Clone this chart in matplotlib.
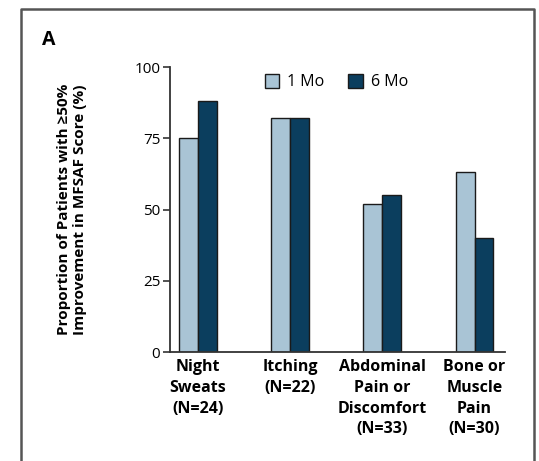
import matplotlib
matplotlib.use("Agg")
import matplotlib.pyplot as plt
from matplotlib.lines import Line2D
from matplotlib.patches import Patch
import numpy as np

plt.rcParams['font.family'] = ['Open Sans', 'DejaVu Sans']

categories = ["Night\nSweats\n(N=24)", "Itching\n(N=22)",
              "Abdominal\nPain or\nDiscomfort\n(N=33)", "Bone or\nMuscle\nPain\n(N=30)"]
mo1 = [75, 82, 52, 63]
mo6 = [88, 82, 55, 40]
series_labels = ["1 Mo", "6 Mo"]
yticks = [0, 25, 50, 75, 100]

light = "#a9c4d5"
dark = "#0b3e5e"
edge = "#1a1a1a"

W, H = 539, 461
fig = plt.figure(figsize=(W / 100, H / 100), dpi=100)

# panel frame (open at the bottom)
fx0, fx1, fy0 = 21 / W, 534 / W, 1 - 9.5 / H
fig.add_artist(Line2D([fx0, fx0, fx1, fx1], [-0.02, fy0, fy0, -0.02],
                      transform=fig.transFigure, color="#555555", lw=1.8))
fig.text(49 / W, 1 - 40 / H, "A", fontsize=14, fontweight="bold",
         ha="center", va="center")

ax = fig.add_axes([170 / W, 1 - 352 / H, (505 - 170) / W, (352 - 67) / H])
x = np.arange(len(categories))
w = 0.205
ax.bar(x - w / 2, mo1, w, color=light, edgecolor=edge, linewidth=1.0, label=series_labels[0])
ax.bar(x + w / 2, mo6, w, color=dark, edgecolor=edge, linewidth=1.0, label=series_labels[1])

ax.set_xlim(-0.30, 3.33)
ax.set_ylim(0, 100)
ax.set_yticks(yticks)
ax.set_yticklabels([str(t) for t in yticks], fontsize=11)
ax.tick_params(axis="y", length=5, width=1.2, pad=2, color="#333333")
ax.set_xticks(x)
ax.set_xticklabels(categories, fontsize=11.5, fontweight="bold", va="top", linespacing=1.4)
ax.tick_params(axis="x", length=0, pad=5)
for s in ("top", "right"):
    ax.spines[s].set_visible(False)
for s in ("left", "bottom"):
    ax.spines[s].set_linewidth(1.3)
    ax.spines[s].set_color("#333333")

ax.set_ylabel("Proportion of Patients with \u226550%\nImprovement in MFSAF Score (%)",
              fontsize=11, fontweight="bold", linespacing=1.2, labelpad=0)
ax.yaxis.set_label_coords(-(170 - 87) / (505 - 170), 0.5)

handles = [Patch(facecolor=light, edgecolor=edge, linewidth=1.0),
           Patch(facecolor=dark, edgecolor=edge, linewidth=1.0)]
ax.legend(handles, series_labels, loc="upper left", bbox_to_anchor=(0.24, 1.025),
          ncol=2, frameon=False, fontsize=11.5, handlelength=0.9, handleheight=0.9,
          handletextpad=0.5, columnspacing=1.5)

fig.savefig("out.png", dpi=100)
